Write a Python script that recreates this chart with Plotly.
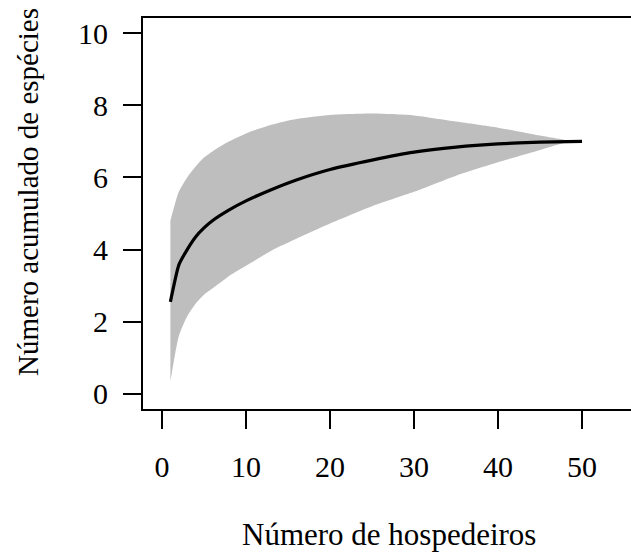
import plotly.graph_objects as go

# Values
x_mean = [1, 2, 3, 4, 5, 6, 8, 10, 13, 16, 20, 25, 30, 35, 40, 45, 50]
y_mean = [2.55, 3.57, 4.0, 4.35, 4.6, 4.8, 5.1, 5.35, 5.66, 5.93, 6.22, 6.48, 6.7, 6.84, 6.93, 6.98, 7.0]

x_band = [1, 2, 3, 4, 5, 6, 8, 10, 13, 16, 20, 25, 30, 35, 40, 45, 48, 50]
y_upper = [4.8, 5.6, 6.0, 6.3, 6.55, 6.72, 7.0, 7.22, 7.46, 7.62, 7.73, 7.77, 7.72, 7.55, 7.38, 7.16, 7.04, 7.0]
y_lower = [0.35, 1.6, 2.15, 2.5, 2.75, 2.92, 3.27, 3.55, 3.97, 4.3, 4.72, 5.2, 5.6, 6.05, 6.42, 6.76, 6.96, 7.0]

x_ticks = [0, 10, 20, 30, 40, 50]
y_ticks = [0, 2, 4, 6, 8, 10]

x_title = "Número de hospedeiros"
y_title = "Número acumulado de espécies"

FONT = "Liberation Serif, Times New Roman, serif"

fig = go.Figure()
fig.add_trace(go.Scatter(
    x=x_band, y=y_upper, mode="lines",
    line=dict(width=0, color="#BEBEBE", shape="spline", smoothing=0.6),
    hoverinfo="skip", showlegend=False,
))
fig.add_trace(go.Scatter(
    x=x_band, y=y_lower, mode="lines", fill="tonexty", fillcolor="#BEBEBE",
    line=dict(width=0, color="#BEBEBE", shape="spline", smoothing=0.6),
    hoverinfo="skip", showlegend=False,
))
fig.add_trace(go.Scatter(
    x=x_mean, y=y_mean, mode="lines",
    line=dict(color="black", width=3.2, shape="spline", smoothing=0.5),
    showlegend=False,
))

fig.update_layout(
    width=631, height=554,
    margin=dict(l=143, r=0, t=18, b=145),
    paper_bgcolor="white", plot_bgcolor="white",
    font=dict(family=FONT, size=30, color="black"),
    xaxis=dict(
        range=[-2.26, 55.83], tickvals=x_ticks, ticktext=[str(v) for v in x_ticks],
        showgrid=False, zeroline=False, showline=True, mirror=True,
        linecolor="black", linewidth=1.8, ticks="outside", ticklen=18,
        tickwidth=1.8, tickcolor="black", ticklabelstandoff=12,
        tickfont=dict(family=FONT, size=30, color="black"),
    ),
    yaxis=dict(
        range=[-0.42, 10.42], tickvals=y_ticks, ticktext=[str(v) for v in y_ticks],
        showgrid=False, zeroline=False, showline=True, mirror=False,
        linecolor="black", linewidth=1.8, ticks="outside", ticklen=18,
        tickwidth=1.8, tickcolor="black", ticklabelstandoff=9,
        tickfont=dict(family=FONT, size=30, color="black"),
    ),
    annotations=[
        dict(text=x_title, xref="x", yref="paper", x=27.0, y=-0.322,
             xanchor="center", yanchor="middle", showarrow=False,
             font=dict(family=FONT, size=31, color="black")),
        dict(text=y_title, xref="paper", yref="paper", x=-0.2357, y=0.555,
             xanchor="center", yanchor="middle", textangle=-90, showarrow=False,
             font=dict(family=FONT, size=29, color="black")),
    ],
)

fig.write_html("out.html")
